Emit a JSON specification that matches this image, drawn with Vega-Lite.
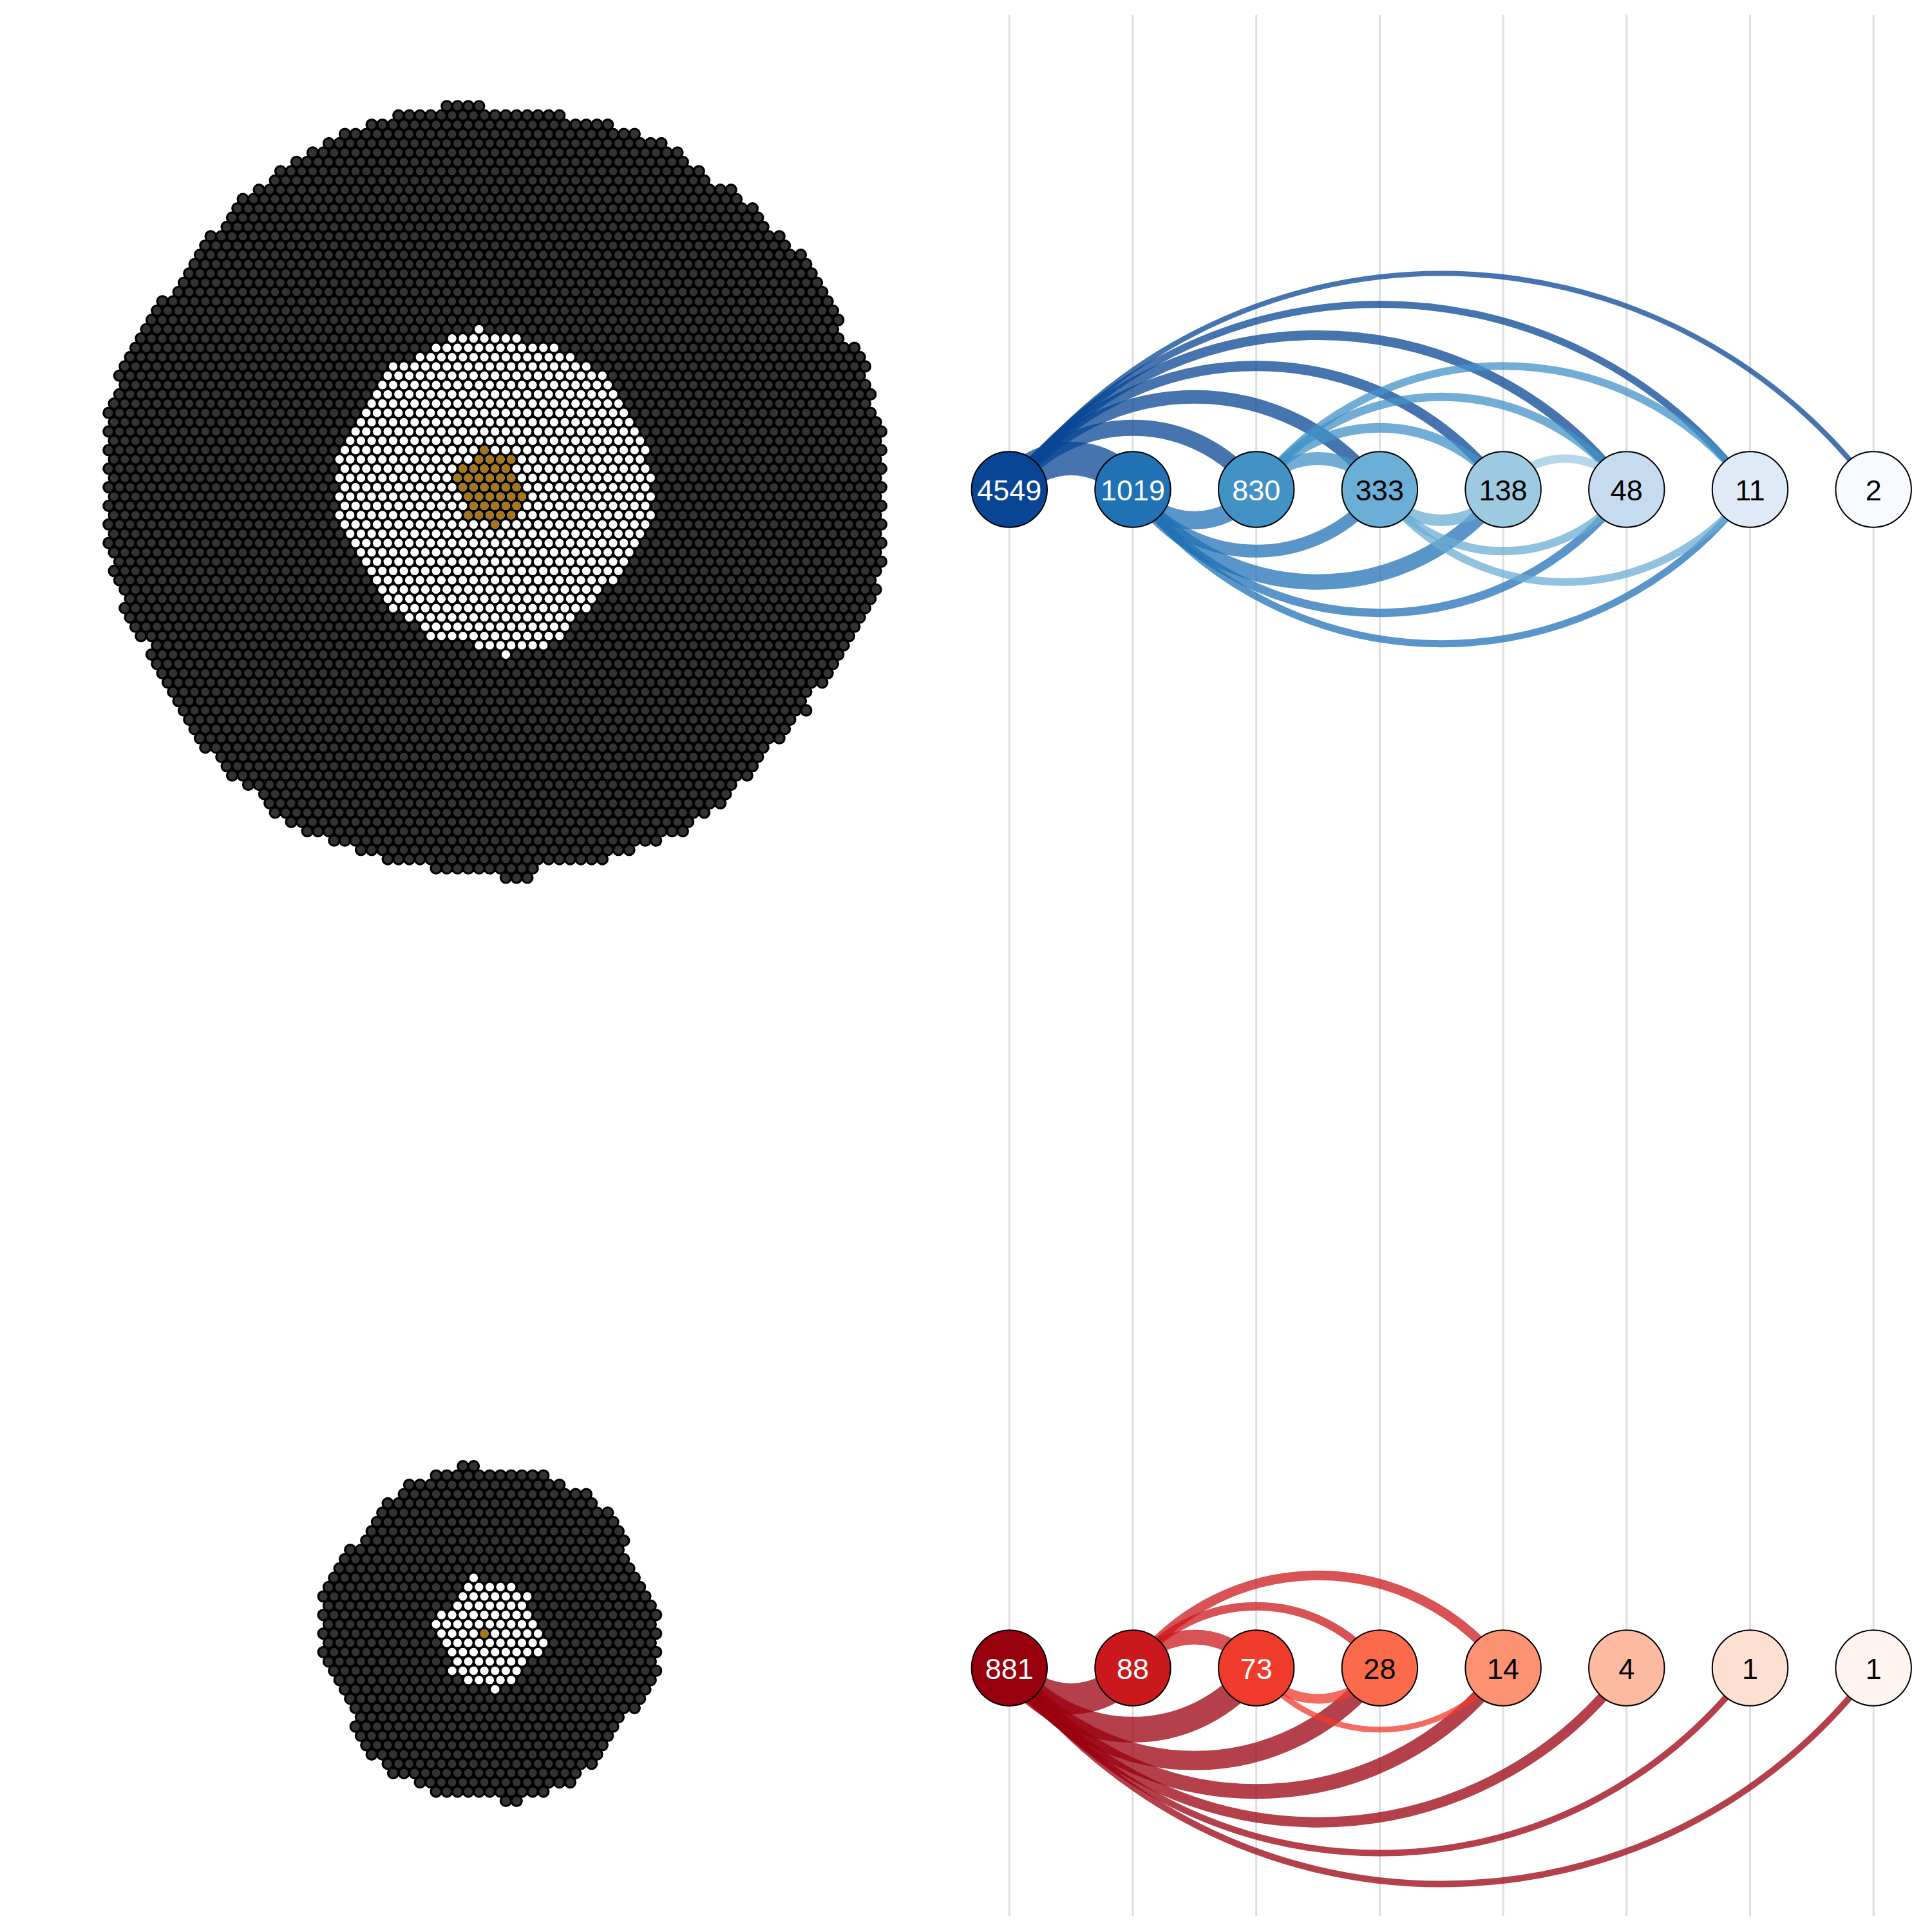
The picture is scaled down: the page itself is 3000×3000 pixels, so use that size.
{
"$schema": "https://vega.github.io/schema/vega-lite/v6.json",
"width": 3000,
"height": 3000,
"padding": 0,
"autosize": {"type": "none"},
"background": "#ffffff",
"config": {"view": {"stroke": null}},
"datasets": {
"dots": [
{"c":"dark","r":11,"x0":41,"x1":45},
{"c":"dark","r":12,"x0":36.5,"x1":52.5},
{"c":"dark","r":13,"x0":34,"x1":57},
{"c":"dark","r":14,"x0":31.5,"x1":59.5},
{"c":"dark","r":15,"x0":30,"x1":62},
{"c":"dark","r":16,"x0":28.5,"x1":63.5},
{"c":"dark","r":17,"x0":27,"x1":64},
{"c":"dark","r":18,"x0":25.5,"x1":65.5},
{"c":"dark","r":19,"x0":25,"x1":66},
{"c":"dark","r":20,"x0":23.5,"x1":68.5},
{"c":"dark","r":21,"x0":22,"x1":69},
{"c":"dark","r":22,"x0":21.5,"x1":70.5},
{"c":"dark","r":23,"x0":21,"x1":71},
{"c":"dark","r":24,"x0":20.5,"x1":71.5},
{"c":"dark","r":25,"x0":19,"x1":73},
{"c":"dark","r":26,"x0":18.5,"x1":73.5},
{"c":"dark","r":27,"x0":18,"x1":75},
{"c":"dark","r":28,"x0":17.5,"x1":75.5},
{"c":"dark","r":29,"x0":17,"x1":76},
{"c":"dark","r":30,"x0":16.5,"x1":76.5},
{"c":"dark","r":31,"x0":16,"x1":77},
{"c":"dark","r":32,"x0":14.5,"x1":77.5},
{"c":"dark","r":33,"x0":14,"x1":78},
{"c":"dark","r":34,"x0":13.5,"x1":78.5},
{"c":"dark","r":35,"x0":13,"x1":78},
{"c":"dark","r":36,"x0":12.5,"x1":78.5},
{"c":"dark","r":37,"x0":12,"x1":80},
{"c":"dark","r":38,"x0":11.5,"x1":80.5},
{"c":"dark","r":39,"x0":11,"x1":81},
{"c":"dark","r":40,"x0":10.5,"x1":80.5},
{"c":"dark","r":41,"x0":11,"x1":81},
{"c":"dark","r":42,"x0":10.5,"x1":81.5},
{"c":"dark","r":43,"x0":10,"x1":81},
{"c":"dark","r":44,"x0":9.5,"x1":81.5},
{"c":"dark","r":45,"x0":10,"x1":82},
{"c":"dark","r":46,"x0":9.5,"x1":82.5},
{"c":"dark","r":47,"x0":10,"x1":82},
{"c":"dark","r":48,"x0":9.5,"x1":82.5},
{"c":"dark","r":49,"x0":10,"x1":82},
{"c":"dark","r":50,"x0":9.5,"x1":82.5},
{"c":"dark","r":51,"x0":10,"x1":82},
{"c":"dark","r":52,"x0":9.5,"x1":82.5},
{"c":"dark","r":53,"x0":10,"x1":82},
{"c":"dark","r":54,"x0":9.5,"x1":82.5},
{"c":"dark","r":55,"x0":10,"x1":82},
{"c":"dark","r":56,"x0":9.5,"x1":82.5},
{"c":"dark","r":57,"x0":10,"x1":82},
{"c":"dark","r":58,"x0":9.5,"x1":82.5},
{"c":"dark","r":59,"x0":10,"x1":82},
{"c":"dark","r":60,"x0":10.5,"x1":82.5},
{"c":"dark","r":61,"x0":10,"x1":82},
{"c":"dark","r":62,"x0":10.5,"x1":81.5},
{"c":"dark","r":63,"x0":11,"x1":82},
{"c":"dark","r":64,"x0":11.5,"x1":81.5},
{"c":"dark","r":65,"x0":11,"x1":81},
{"c":"dark","r":66,"x0":11.5,"x1":80.5},
{"c":"dark","r":67,"x0":12,"x1":80},
{"c":"dark","r":68,"x0":12.5,"x1":79.5},
{"c":"dark","r":69,"x0":14,"x1":79},
{"c":"dark","r":70,"x0":13.5,"x1":78.5},
{"c":"dark","r":71,"x0":14,"x1":78},
{"c":"dark","r":72,"x0":14.5,"x1":77.5},
{"c":"dark","r":73,"x0":15,"x1":77},
{"c":"dark","r":74,"x0":15.5,"x1":75.5},
{"c":"dark","r":75,"x0":16,"x1":75},
{"c":"dark","r":76,"x0":16.5,"x1":75.5},
{"c":"dark","r":77,"x0":17,"x1":74},
{"c":"dark","r":78,"x0":17.5,"x1":73.5},
{"c":"dark","r":79,"x0":18,"x1":73},
{"c":"dark","r":80,"x0":18.5,"x1":71.5},
{"c":"dark","r":81,"x0":20,"x1":71},
{"c":"dark","r":82,"x0":20.5,"x1":70.5},
{"c":"dark","r":83,"x0":21,"x1":70},
{"c":"dark","r":84,"x0":22.5,"x1":68.5},
{"c":"dark","r":85,"x0":24,"x1":68},
{"c":"dark","r":86,"x0":24.5,"x1":67.5},
{"c":"dark","r":87,"x0":25,"x1":66},
{"c":"dark","r":88,"x0":26.5,"x1":64.5},
{"c":"dark","r":89,"x0":28,"x1":64},
{"c":"dark","r":90,"x0":30.5,"x1":61.5},
{"c":"dark","r":91,"x0":33,"x1":59},
{"c":"dark","r":92,"x0":35.5,"x1":56.5},
{"c":"dark","r":93,"x0":40,"x1":50},
{"c":"dark","r":94,"x0":46.5,"x1":49.5},
{"c":"dark","r":157.32,"x0":42.5,"x1":44.5},
{"c":"dark","r":158.32,"x0":40,"x1":51},
{"c":"dark","r":159.32,"x0":37.5,"x1":52.5},
{"c":"dark","r":160.32,"x0":37,"x1":55},
{"c":"dark","r":161.32,"x0":35.5,"x1":55.5},
{"c":"dark","r":162.32,"x0":35,"x1":57},
{"c":"dark","r":163.32,"x0":34.5,"x1":57.5},
{"c":"dark","r":164.32,"x0":34,"x1":58},
{"c":"dark","r":165.32,"x0":33.5,"x1":58.5},
{"c":"dark","r":166.32,"x0":32,"x1":58},
{"c":"dark","r":167.32,"x0":31.5,"x1":58.5},
{"c":"dark","r":168.32,"x0":31,"x1":59},
{"c":"dark","r":169.32,"x0":30.5,"x1":59.5},
{"c":"dark","r":170.32,"x0":30,"x1":60},
{"c":"dark","r":171.32,"x0":29.5,"x1":60.5},
{"c":"dark","r":172.32,"x0":30,"x1":61},
{"c":"dark","r":173.32,"x0":29.5,"x1":61.5},
{"c":"dark","r":174.32,"x0":30,"x1":61},
{"c":"dark","r":175.32,"x0":29.5,"x1":61.5},
{"c":"dark","r":176.32,"x0":30,"x1":61},
{"c":"dark","r":177.32,"x0":29.5,"x1":61.5},
{"c":"dark","r":178.32,"x0":30,"x1":61},
{"c":"dark","r":179.32,"x0":30.5,"x1":61.5},
{"c":"dark","r":180.32,"x0":31,"x1":61},
{"c":"dark","r":181.32,"x0":31.5,"x1":60.5},
{"c":"dark","r":182.32,"x0":32,"x1":60},
{"c":"dark","r":183.32,"x0":32.5,"x1":59.5},
{"c":"dark","r":184.32,"x0":33,"x1":58},
{"c":"dark","r":185.32,"x0":32.5,"x1":57.5},
{"c":"dark","r":186.32,"x0":33,"x1":57},
{"c":"dark","r":187.32,"x0":33.5,"x1":56.5},
{"c":"dark","r":188.32,"x0":34,"x1":56},
{"c":"dark","r":189.32,"x0":35.5,"x1":55.5},
{"c":"dark","r":190.32,"x0":36,"x1":54},
{"c":"dark","r":191.32,"x0":38.5,"x1":53.5},
{"c":"dark","r":192.32,"x0":40,"x1":51},
{"c":"dark","r":193.32,"x0":46.5,"x1":48.5},
{"c":"white","r":35,"x0":44,"x1":45},
{"c":"white","r":36,"x0":41.5,"x1":48.5},
{"c":"white","r":37,"x0":40,"x1":52},
{"c":"white","r":38,"x0":38.5,"x1":53.5},
{"c":"white","r":39,"x0":36,"x1":55},
{"c":"white","r":40,"x0":35.5,"x1":56.5},
{"c":"white","r":41,"x0":35,"x1":57},
{"c":"white","r":42,"x0":34.5,"x1":57.5},
{"c":"white","r":43,"x0":34,"x1":58},
{"c":"white","r":44,"x0":33.5,"x1":58.5},
{"c":"white","r":45,"x0":33,"x1":59},
{"c":"white","r":46,"x0":32.5,"x1":59.5},
{"c":"white","r":47,"x0":32,"x1":60},
{"c":"white","r":48,"x0":31.5,"x1":60.5},
{"c":"white","r":49,"x0":31,"x1":60},
{"c":"white","r":50,"x0":31.5,"x1":60.5},
{"c":"white","r":51,"x0":31,"x1":61},
{"c":"white","r":52,"x0":31.5,"x1":60.5},
{"c":"white","r":53,"x0":31,"x1":61},
{"c":"white","r":54,"x0":31.5,"x1":60.5},
{"c":"white","r":55,"x0":31,"x1":61},
{"c":"white","r":56,"x0":31.5,"x1":60.5},
{"c":"white","r":57,"x0":32,"x1":60},
{"c":"white","r":58,"x0":32.5,"x1":59.5},
{"c":"white","r":59,"x0":33,"x1":59},
{"c":"white","r":60,"x0":33.5,"x1":58.5},
{"c":"white","r":61,"x0":34,"x1":58},
{"c":"white","r":62,"x0":34.5,"x1":57.5},
{"c":"white","r":63,"x0":35,"x1":56},
{"c":"white","r":64,"x0":35.5,"x1":55.5},
{"c":"white","r":65,"x0":36,"x1":55},
{"c":"white","r":66,"x0":37.5,"x1":53.5},
{"c":"white","r":67,"x0":39,"x1":53},
{"c":"white","r":68,"x0":39.5,"x1":52.5},
{"c":"white","r":69,"x0":44,"x1":51},
{"c":"white","r":70,"x0":46.5,"x1":47.5},
{"c":"white","r":169.32,"x0":43.5,"x1":44.5},
{"c":"white","r":170.32,"x0":43,"x1":48},
{"c":"white","r":171.32,"x0":42.5,"x1":49.5},
{"c":"white","r":172.32,"x0":42,"x1":49},
{"c":"white","r":173.32,"x0":40.5,"x1":49.5},
{"c":"white","r":174.32,"x0":40,"x1":50},
{"c":"white","r":175.32,"x0":40.5,"x1":50.5},
{"c":"white","r":176.32,"x0":41,"x1":51},
{"c":"white","r":177.32,"x0":41.5,"x1":50.5},
{"c":"white","r":178.32,"x0":42,"x1":49},
{"c":"white","r":179.32,"x0":41.5,"x1":48.5},
{"c":"white","r":180.32,"x0":43,"x1":48},
{"c":"white","r":181.32,"x0":45.5,"x1":46.5},
{"c":"brown","r":48,"x0":44.5,"x1":45.5},
{"c":"brown","r":49,"x0":44,"x1":48},
{"c":"brown","r":50,"x0":42.5,"x1":47.5},
{"c":"brown","r":51,"x0":42,"x1":48},
{"c":"brown","r":52,"x0":42.5,"x1":48.5},
{"c":"brown","r":53,"x0":43,"x1":49},
{"c":"brown","r":54,"x0":43.5,"x1":48.5},
{"c":"brown","r":55,"x0":43,"x1":48},
{"c":"brown","r":56,"x0":45.5,"x1":46.5},
{"c":"brown","r":175.32,"x0":44.5,"x1":45.5}
],
"nodes": [
{"id":"b0","label":"4549","i":0,"lvl":1},
{"id":"b1","label":"1019","i":1,"lvl":1},
{"id":"b2","label":"830","i":2,"lvl":1},
{"id":"b3","label":"333","i":3,"lvl":1},
{"id":"b4","label":"138","i":4,"lvl":1},
{"id":"b5","label":"48","i":5,"lvl":1},
{"id":"b6","label":"11","i":6,"lvl":1},
{"id":"b7","label":"2","i":7,"lvl":1},
{"id":"r0","label":"881","i":0,"lvl":0},
{"id":"r1","label":"88","i":1,"lvl":0},
{"id":"r2","label":"73","i":2,"lvl":0},
{"id":"r3","label":"28","i":3,"lvl":0},
{"id":"r4","label":"14","i":4,"lvl":0},
{"id":"r5","label":"4","i":5,"lvl":0},
{"id":"r6","label":"1","i":6,"lvl":0},
{"id":"r7","label":"1","i":7,"lvl":0}
],
"edges": [
{"src":"b0","lvl":1,"mid":0.5,"span":1,"dir":"up","w":52},
{"src":"b0","lvl":1,"mid":1,"span":2,"dir":"up","w":25},
{"src":"b0","lvl":1,"mid":1.5,"span":3,"dir":"up","w":21},
{"src":"b0","lvl":1,"mid":2,"span":4,"dir":"up","w":16},
{"src":"b0","lvl":1,"mid":2.5,"span":5,"dir":"up","w":15},
{"src":"b0","lvl":1,"mid":3,"span":6,"dir":"up","w":11},
{"src":"b0","lvl":1,"mid":3.5,"span":7,"dir":"up","w":8},
{"src":"b1","lvl":1,"mid":1.5,"span":1,"dir":"down","w":28},
{"src":"b1","lvl":1,"mid":2,"span":2,"dir":"down","w":20},
{"src":"b1","lvl":1,"mid":2.5,"span":3,"dir":"down","w":24},
{"src":"b1","lvl":1,"mid":3,"span":4,"dir":"down","w":13},
{"src":"b1","lvl":1,"mid":3.5,"span":5,"dir":"down","w":11},
{"src":"b2","lvl":1,"mid":2.5,"span":1,"dir":"up","w":20},
{"src":"b2","lvl":1,"mid":3,"span":2,"dir":"up","w":15},
{"src":"b2","lvl":1,"mid":3.5,"span":3,"dir":"up","w":13},
{"src":"b2","lvl":1,"mid":4,"span":4,"dir":"up","w":12},
{"src":"b3","lvl":1,"mid":3.5,"span":1,"dir":"down","w":18},
{"src":"b3","lvl":1,"mid":4,"span":2,"dir":"down","w":13},
{"src":"b3","lvl":1,"mid":4.5,"span":3,"dir":"down","w":12},
{"src":"b4","lvl":1,"mid":4.5,"span":1,"dir":"up","w":13},
{"src":"r0","lvl":0,"mid":0.5,"span":1,"dir":"down","w":48},
{"src":"r0","lvl":0,"mid":1,"span":2,"dir":"down","w":40},
{"src":"r0","lvl":0,"mid":1.5,"span":3,"dir":"down","w":30},
{"src":"r0","lvl":0,"mid":2,"span":4,"dir":"down","w":23},
{"src":"r0","lvl":0,"mid":2.5,"span":5,"dir":"down","w":16},
{"src":"r0","lvl":0,"mid":3,"span":6,"dir":"down","w":10},
{"src":"r0","lvl":0,"mid":3.5,"span":7,"dir":"down","w":10},
{"src":"r1","lvl":0,"mid":1.5,"span":1,"dir":"up","w":23},
{"src":"r1","lvl":0,"mid":2,"span":2,"dir":"up","w":13},
{"src":"r1","lvl":0,"mid":2.5,"span":3,"dir":"up","w":15},
{"src":"r2","lvl":0,"mid":2.5,"span":1,"dir":"down","w":15},
{"src":"r2","lvl":0,"mid":3,"span":2,"dir":"down","w":9}
]
},
"layer": [
{
"data": {"name": "dots"},
"encoding": {
"x": {"field": "x0", "type": "quantitative", "scale": {"domain": [-0.13, 179.87], "nice": false, "zero": false}, "axis": null},
"x2": {"field": "x1"},
"y": {"field": "r", "type": "quantitative", "scale": {"domain": [-0.42, 207.426], "nice": false, "zero": false, "reverse": true}, "axis": null}
},
"layer": [
{"transform": [{"filter": "datum.c === 'dark'"}], "mark": {"type": "rule", "stroke": "#000000", "strokeWidth": 19.4, "strokeCap": "round", "strokeDash": [0, 16.66], "strokeDashOffset": 8.33}},
{"transform": [{"filter": "datum.c === 'dark'"}], "mark": {"type": "rule", "stroke": "#333333", "strokeWidth": 12.8, "strokeCap": "round", "strokeDash": [0, 16.66], "strokeDashOffset": 8.33}},
{"transform": [{"filter": "datum.c !== 'dark'"}], "mark": {"type": "rule", "strokeWidth": 13.2, "strokeCap": "round", "strokeDash": [0, 16.66], "strokeDashOffset": 8.33},
 "encoding": {"color": {"field": "c", "type": "nominal", "scale": {"domain": ["white", "brown"], "range": ["#ffffff", "#a6761d"]}, "legend": null}}}
]
},
{
"layer": [
{
"data": {"name": "nodes"},
"transform": [{"filter": "datum.lvl === 1"}],
"mark": {"type": "rule", "stroke": "#dedede", "strokeWidth": 3},
"encoding": {
"x": {"field": "i", "type": "quantitative", "scale": {"domain": [-8.1758, 7.4737], "nice": false, "zero": false}, "axis": null},
"y": {"datum": 1.40273, "type": "quantitative", "scale": {"domain": [-0.22404, 1.4153], "nice": false, "zero": false}, "axis": null},
"y2": {"datum": -0.21038}
}
},
{
"data": {"name": "edges"},
"mark": {"type": "point", "filled": false, "opacity": 1, "strokeOpacity": 0.75},
"encoding": {
"x": {"field": "mid", "type": "quantitative", "scale": {"domain": [-8.1758, 7.4737], "nice": false, "zero": false}, "axis": null},
"y": {"field": "lvl", "type": "quantitative", "scale": {"domain": [-0.22404, 1.4153], "nice": false, "zero": false}, "axis": null},
"shape": {"field": "dir", "type": "nominal", "scale": {"domain": ["up", "down"], "range": ["M -1 0 A 1.25 1.25 0 0 1 1 0", "M -1 0 A 1.25 1.25 0 0 0 1 0"]}, "legend": null},
"size": {"field": "span", "type": "quantitative", "scale": {"type": "pow", "exponent": 2, "domain": [0, 7], "range": [0, 1800696]}, "legend": null},
"stroke": {"field": "src", "type": "nominal", "scale": {"domain": ["b0","b1","b2","b3","b4","r0","r1","r2"], "range": ["#084594","#2171b5","#4292c6","#6baed6","#9ecae1","#99000d","#cb181d","#ef3b2c"]}, "legend": null},
"strokeWidth": {"field": "w", "type": "quantitative", "scale": {"domain": [0, 60], "range": [0, 60]}, "legend": null}
}
},
{
"data": {"name": "nodes"},
"mark": {"type": "point", "shape": "circle", "filled": true, "size": 13783, "stroke": "#000000", "strokeWidth": 2, "opacity": 1},
"encoding": {
"x": {"field": "i", "type": "quantitative", "scale": {"domain": [-8.1758, 7.4737], "nice": false, "zero": false}, "axis": null},
"y": {"field": "lvl", "type": "quantitative", "scale": {"domain": [-0.22404, 1.4153], "nice": false, "zero": false}, "axis": null},
"fill": {"field": "id", "type": "nominal", "scale": {"domain": ["b0","b1","b2","b3","b4","b5","b6","b7","r0","r1","r2","r3","r4","r5","r6","r7"], "range": ["#084594","#2171b5","#4292c6","#6baed6","#9ecae1","#c6dbef","#deebf7","#f7fbff","#99000d","#cb181d","#ef3b2c","#fb6a4a","#fc9272","#fcbba1","#fee0d2","#fff5f0"]}, "legend": null}
}
},
{
"data": {"name": "nodes"},
"mark": {"type": "text", "font": "Liberation Sans", "fontSize": 45, "align": "center", "baseline": "middle", "dy": 3},
"encoding": {
"x": {"field": "i", "type": "quantitative", "scale": {"domain": [-8.1758, 7.4737], "nice": false, "zero": false}, "axis": null},
"y": {"field": "lvl", "type": "quantitative", "scale": {"domain": [-0.22404, 1.4153], "nice": false, "zero": false}, "axis": null},
"text": {"field": "label", "type": "nominal"},
"color": {"condition": {"test": "datum.i < 3", "value": "#ffffff"}, "value": "#000000"}
}
}
]
}
],
"resolve": {"scale": {"x": "independent", "y": "independent", "color": "independent", "strokeWidth": "independent"}}
}
